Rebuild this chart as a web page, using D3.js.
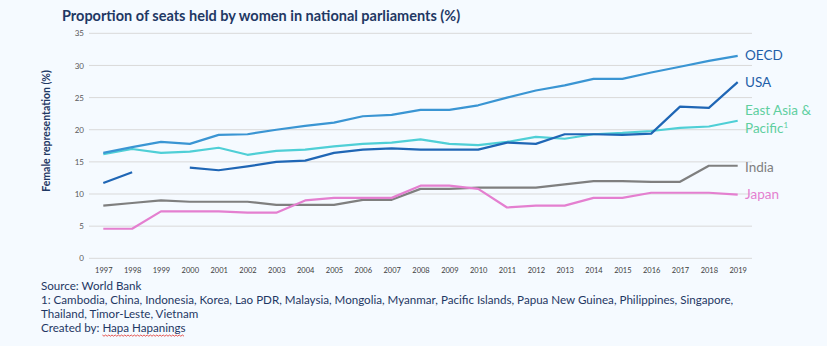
<!DOCTYPE html>
<html><head><meta charset="utf-8">
<script src="https://cdn.jsdelivr.net/npm/d3@7"></script>
<style>
html,body{margin:0;padding:0;background:#f5faff;}
svg{display:block;font-family:Lato,"Open Sans",sans-serif;}
</style></head><body>
<svg id="c" width="827" height="346"></svg>
<script>
const years = d3.range(1997, 2020);
const oecd = [16.4,17.3,18.1,17.8,19.2,19.3,20.0,20.6,21.1,22.1,22.3,23.1,23.1,23.8,25.0,26.1,26.9,27.9,27.9,28.9,29.8,30.7,31.5];
const usa = [11.7,13.4,null,14.1,13.7,14.3,15.0,15.2,16.4,16.9,17.1,16.9,16.9,16.9,18.0,17.8,19.3,19.3,19.2,19.4,23.6,23.4,27.4];
const eap = [16.2,17.0,16.4,16.6,17.2,16.1,16.7,16.9,17.4,17.8,18.0,18.5,17.8,17.6,18.1,18.9,18.6,19.3,19.5,19.8,20.3,20.5,21.4];
const india = [8.2,8.6,9.0,8.8,8.8,8.8,8.3,8.3,8.3,9.1,9.1,10.8,10.8,11.0,11.0,11.0,11.5,12.0,12.0,11.9,11.9,14.4,14.4];
const japan = [4.6,4.6,7.3,7.3,7.3,7.1,7.1,9.0,9.4,9.4,9.4,11.3,11.3,10.8,7.9,8.2,8.2,9.4,9.4,10.2,10.2,10.2,9.9];
const yTicks = [0,5,10,15,20,25,30,35];

const series = [
  {name:"India", values:india, color:"#7f7f7f"},
  {name:"Japan", values:japan, color:"#e47fd0"},
  {name:"East Asia & Pacific", values:eap, color:"#4fcfd6"},
  {name:"OECD", values:oecd, color:"#3a95d3"},
  {name:"USA", values:usa, color:"#1f66b5"}
];

const svg = d3.select("#c");
const x = d3.scalePoint().domain(years).range([103.3, 737.7]);
const y = d3.scaleLinear().domain([0,35]).range([258.3, 33.3]);

// gridlines
svg.append("g").selectAll("line").data(yTicks).join("line")
  .attr("x1",89).attr("x2",752)
  .attr("y1",d=>y(d)).attr("y2",d=>y(d))
  .attr("stroke","#d9d9d9").attr("stroke-width",1);

// y tick labels
const ya = svg.append("g").attr("transform","translate(84,0)")
  .call(d3.axisLeft(y).tickValues(yTicks).tickSize(0).tickPadding(0));
ya.select(".domain").remove();
ya.selectAll("text").attr("font-size","8px").attr("fill","#595959").attr("font-family","Lato,sans-serif");

// x tick labels
const xa = svg.append("g").attr("transform","translate(0,267.5)")
  .call(d3.axisBottom(x).tickSize(0).tickPadding(0));
xa.select(".domain").remove();
xa.selectAll("text").attr("font-size","7.5px").attr("fill","#404040").attr("font-family","Lato,sans-serif");

// lines
const line = d3.line().defined(d=>d[1]!=null).x(d=>x(d[0])).y(d=>y(d[1]));
svg.append("g").selectAll("path").data(series).join("path")
  .attr("d",s=>line(years.map((yr,i)=>[yr,s.values[i]])))
  .attr("fill","none").attr("stroke",s=>s.color).attr("stroke-width",2.2)
  .attr("stroke-linejoin","round");

// title
svg.append("text").attr("x",62).attr("y",21)
  .attr("font-size","14.5px").attr("font-weight","bold").attr("fill","#1f3864")
  .text("Proportion of seats held by women in national parliaments (%)");

// y label
svg.append("text").attr("transform","translate(50,131) rotate(-90)")
  .attr("text-anchor","middle").attr("font-size","10.5px").attr("font-weight","bold").attr("fill","#1f3864")
  .text("Female representation (%)");

// series labels
const lbl = [
  {t:"OECD", y:60, c:"#1f5fa8"},
  {t:"USA", y:87, c:"#1f5fa8"},
  {t:"East Asia &", y:115, c:"#5fcf9f"},
  {t:"Pacific", y:133, c:"#5fcf9f", sup:"1"},
  {t:"India", y:172, c:"#7f7f7f"},
  {t:"Japan", y:199, c:"#e47fd0"}
];
const lg = svg.append("g").selectAll("text").data(lbl).join("text")
  .attr("x",745).attr("y",d=>d.y).attr("font-size","13.5px").attr("fill",d=>d.c)
  .text(d=>d.t);
lg.filter(d=>d.sup).append("tspan").attr("font-size","8px").attr("dy",-5).text(d=>d.sup);

// footer
const foot = ["Source: World Bank",
  "1: Cambodia, China, Indonesia, Korea, Lao PDR, Malaysia, Mongolia, Myanmar, Pacific Islands, Papua New Guinea, Philippines, Singapore,",
  "Thailand, Timor-Leste, Vietnam",
  "Created by: Hapa Hapanings"];
const fy = [290, 304, 318, 332];
const ft = svg.append("g").selectAll("text").data(foot).join("text")
  .attr("x",41).attr("y",(d,i)=>fy[i]).attr("font-size","11.6px").attr("fill","#1f3864")
  .text(d=>d);
// spellcheck squiggle under "Hapa Hapanings"
const last = ft.nodes()[3];
const start = "Created by: ".length;
const x0 = 41 + last.getSubStringLength(0, start);
const x1 = 41 + last.getComputedTextLength();
const sq = [];
let k = 0;
for (let xx=x0; xx<=x1; xx+=1.6, k++) sq.push([xx, 335 + (k % 2 ? 1.2 : 0)]);
svg.append("path").attr("d",d3.line()(sq)).attr("fill","none").attr("stroke","#e0302a").attr("stroke-width",0.8);
</script>
</body></html>
